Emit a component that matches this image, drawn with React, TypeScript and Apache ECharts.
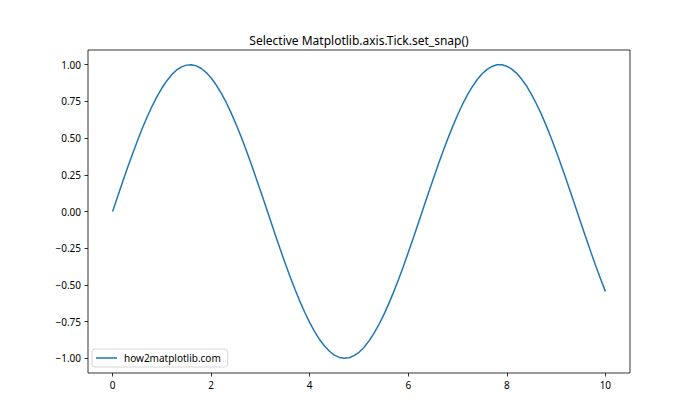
import React, { useEffect, useRef } from "react";
import * as echarts from "echarts";

const xValues: number[] = [
  0, 0.1, 0.2, 0.3, 0.4, 0.5, 0.6, 0.7, 0.8, 0.9, 1.0, 1.1, 1.2, 1.3, 1.4, 1.5, 1.6, 1.7, 1.8, 1.9,
  2.0, 2.1, 2.2, 2.3, 2.4, 2.5, 2.6, 2.7, 2.8, 2.9, 3.0, 3.1, 3.2, 3.3, 3.4, 3.5, 3.6, 3.7, 3.8, 3.9,
  4.0, 4.1, 4.2, 4.3, 4.4, 4.5, 4.6, 4.7, 4.8, 4.9, 5.0, 5.1, 5.2, 5.3, 5.4, 5.5, 5.6, 5.7, 5.8, 5.9,
  6.0, 6.1, 6.2, 6.3, 6.4, 6.5, 6.6, 6.7, 6.8, 6.9, 7.0, 7.1, 7.2, 7.3, 7.4, 7.5, 7.6, 7.7, 7.8, 7.9,
  8.0, 8.1, 8.2, 8.3, 8.4, 8.5, 8.6, 8.7, 8.8, 8.9, 9.0, 9.1, 9.2, 9.3, 9.4, 9.5, 9.6, 9.7, 9.8, 9.9,
  10.0,
];
const yValues: number[] = [
  0, 0.1, 0.199, 0.296, 0.389, 0.479, 0.565, 0.644, 0.717, 0.783, 0.841, 0.891, 0.932, 0.964, 0.985,
  0.997, 1.0, 0.992, 0.974, 0.946, 0.909, 0.863, 0.808, 0.746, 0.675, 0.598, 0.516, 0.427, 0.335,
  0.239, 0.141, 0.042, -0.058, -0.158, -0.256, -0.351, -0.443, -0.53, -0.612, -0.688, -0.757,
  -0.818, -0.872, -0.916, -0.952, -0.978, -0.994, -1.0, -0.996, -0.982, -0.959, -0.926, -0.883,
  -0.832, -0.773, -0.706, -0.631, -0.551, -0.465, -0.374, -0.279, -0.182, -0.083, 0.017, 0.117,
  0.215, 0.312, 0.405, 0.494, 0.578, 0.657, 0.729, 0.794, 0.851, 0.899, 0.938, 0.968, 0.988,
  0.999, 0.999, 0.989, 0.97, 0.941, 0.902, 0.855, 0.798, 0.734, 0.663, 0.585, 0.501, 0.412, 0.319,
  0.223, 0.124, 0.025, -0.075, -0.174, -0.271, -0.366, -0.457, -0.544,
];
const xTicks: number[] = [0, 2, 4, 6, 8, 10];
const yTicks: number[] = [-1, -0.75, -0.5, -0.25, 0, 0.25, 0.5, 0.75, 1];
const titleText = "Selective Matplotlib.axis.Tick.set_snap()";
const seriesName = "how2matplotlib.com";

const FONT = "'Noto Sans', sans-serif";

export default function App() {
  const ref = useRef<HTMLDivElement>(null);
  useEffect(() => {
    if (!ref.current) return;
    const chart = echarts.init(ref.current, undefined, { renderer: "svg" });
    const data = xValues.map((x, i) => [x, yValues[i]]);
    const fmt = (v: number, d: number) => {
      const s = Math.abs(v).toFixed(d);
      return v < 0 ? "\u2212" + s : s;
    };
    chart.setOption({
      animation: false,
      backgroundColor: "#ffffff",
      textStyle: { fontFamily: FONT },
      grid: {
        left: 88,
        top: 50,
        width: 542,
        height: 323,
        show: true,
        borderColor: "#000000",
        borderWidth: 0.8,
        backgroundColor: "transparent",
        containLabel: false,
      },
      graphic: [
        {
          type: "text",
          x: 359,
          y: 40,
          style: {
            text: titleText,
            fontFamily: FONT,
            fontSize: 12,
            fill: "#000000",
            textAlign: "center",
            textVerticalAlign: "middle",
          },
        },
      ],
      legend: {
        left: 92,
        top: 349,
        orient: "vertical",
        data: [{ name: seriesName, icon: "rect" }],
        itemWidth: 21,
        itemHeight: 1.5,
        itemGap: 0,
        padding: [4, 7, 4, 4],
        backgroundColor: "rgba(255,255,255,0.8)",
        borderColor: "#cccccc",
        borderWidth: 0.8,
        borderRadius: 3,
        textStyle: { fontFamily: FONT, fontSize: 10, color: "#000000", padding: [0, 0, 0, 2] },
      },
      xAxis: {
        type: "value",
        min: -0.5,
        max: 10.5,
        axisLine: { show: false, onZero: false },
        splitLine: { show: false },
        axisTick: {
          show: true,
          length: 3.5,
          inside: false,
          customValues: xTicks,
          lineStyle: { color: "#000000", width: 0.8 },
        },
        axisLabel: {
          customValues: xTicks,
          margin: 7,
          fontFamily: FONT,
          fontSize: 10,
          color: "#000000",
          formatter: (v: number) => fmt(v, 0),
        },
      },
      yAxis: {
        type: "value",
        min: -1.1,
        max: 1.1,
        axisLine: { show: false, onZero: false },
        splitLine: { show: false },
        axisTick: {
          show: true,
          length: 3.5,
          inside: false,
          customValues: yTicks,
          lineStyle: { color: "#000000", width: 0.8 },
        },
        axisLabel: {
          customValues: yTicks,
          margin: 7,
          fontFamily: FONT,
          fontSize: 10,
          color: "#000000",
          formatter: (v: number) => fmt(v, 2),
        },
      },
      series: [
        {
          name: seriesName,
          type: "line",
          data,
          symbol: "none",
          smooth: false,
          lineStyle: { color: "#1f77b4", width: 1.5 },
          itemStyle: { color: "#1f77b4" },
        },
      ],
    });
    return () => chart.dispose();
  }, []);
  return (
    <div
      ref={ref}
      style={{ position: "fixed", left: 0, top: 0, width: 700, height: 420 }}
    />
  );
}
